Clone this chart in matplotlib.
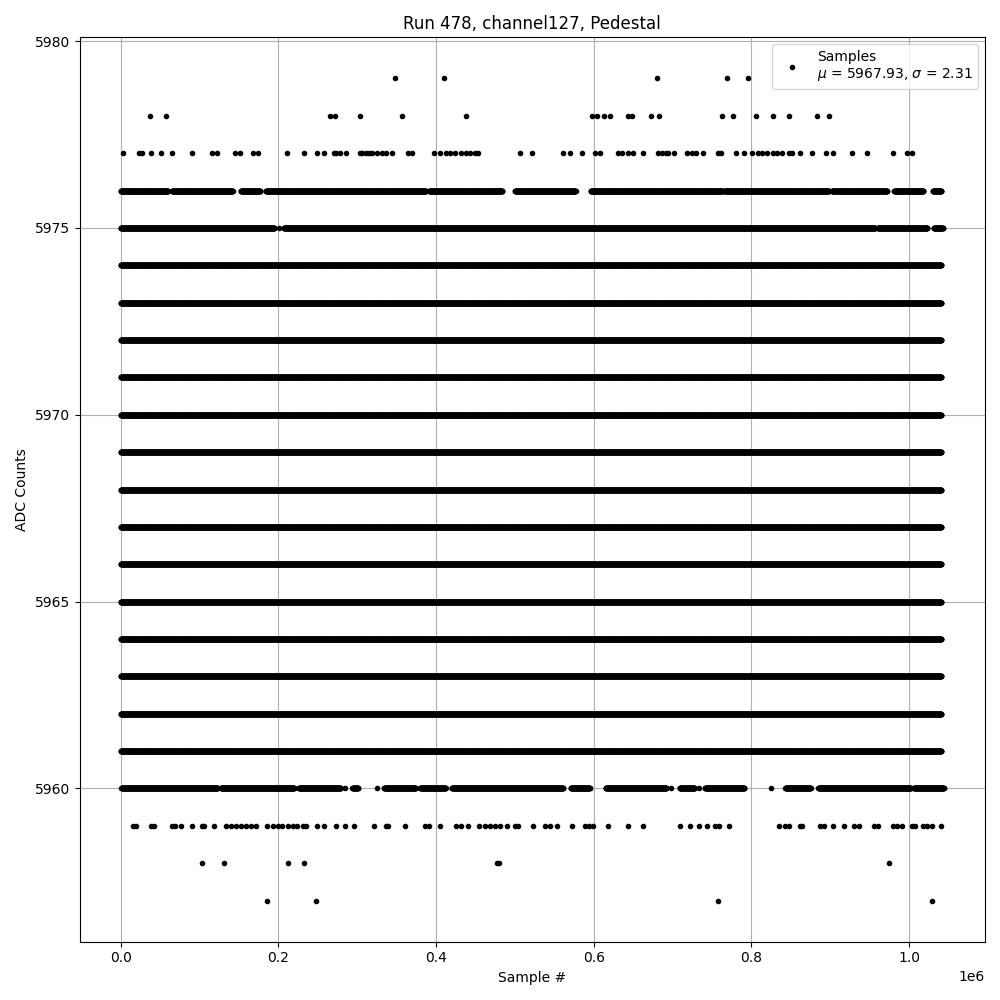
import numpy as np
import matplotlib
matplotlib.use("Agg")
import matplotlib.pyplot as plt

# ---- data (sample positions in thousands of samples, ADC levels) ----
# levels that are populated over the whole run
levels_full = [5961, 5962, 5963, 5964, 5965, 5966, 5967, 5968, 5969, 5970,
               5971, 5972, 5973, 5974]
full_span_k = [0, 1041]

# partly populated levels: occupied sample intervals [start, end] (thousands)
seg_5975_k = [[0, 195], [201, 201], [207, 957], [960, 1023], [1031, 1043]]
seg_5976_k = [[0, 60], [65, 142], [152, 177], [184, 387], [391, 484],
              [500, 577], [596, 764], [766, 898], [902, 972], [981, 1018],
              [1030, 1041]]
seg_5960_k = [[1, 123], [127, 220], [226, 279], [285, 285], [294, 301],
              [325, 325], [334, 374], [380, 412], [420, 561], [571, 595],
              [615, 692], [698, 698], [709, 728], [733, 733], [741, 791],
              [825, 825], [843, 875], [885, 1002], [1006, 1044]]

# sparse levels: individual sample positions (thousands)
pts_5977_k = [3, 23, 27, 38, 51, 65, 90, 116, 122, 145, 151, 168, 174, 211,
              233, 249, 258, 270, 273, 278, 286, 303, 306, 311, 315, 319, 325,
              331, 337, 344, 365, 370, 397, 405, 412, 418, 424, 431, 438, 443,
              450, 453, 507, 522, 561, 570, 585, 601, 608, 631, 636, 643, 650,
              662, 681, 686, 691, 694, 702, 718, 724, 730, 738, 757, 761, 780,
              790, 801, 808, 814, 820, 827, 833, 839, 848, 852, 861, 877, 895,
              904, 927, 946, 979, 997, 1004]
pts_5978_k = [37, 57, 265, 272, 303, 357, 438, 598, 604, 613, 621, 643, 648,
              673, 683, 763, 777, 806, 827, 847, 883, 898]
pts_5979_k = [348, 410, 680, 769, 796]
pts_5959_k = [15, 20, 38, 42, 65, 69, 77, 91, 103, 106, 118, 134, 140, 146,
              153, 159, 165, 172, 186, 193, 199, 205, 212, 218, 224, 231, 235,
              249, 258, 273, 285, 296, 321, 337, 339, 360, 386, 391, 405, 425,
              431, 441, 454, 462, 469, 475, 481, 490, 500, 504, 523, 538, 544,
              553, 573, 589, 594, 599, 618, 643, 663, 709, 722, 733, 744, 754,
              759, 772, 835, 842, 848, 861, 864, 887, 892, 903, 917, 930, 937,
              955, 960, 979, 985, 991, 1004, 1008, 1018, 1023, 1029, 1040]
pts_5958_k = [103, 131, 212, 233, 477, 480, 974]
pts_5957_k = [185, 248, 758, 1029]

mu_label = 5967.93
sigma_label = 2.31

# ---- assemble the points ----
xs, ys = [], []


def add_segments(level, segs):
    for a, b in segs:
        s = np.arange(a, b + 0.001, 0.25) * 1000.0
        xs.append(s)
        ys.append(np.full(s.shape, level))


def add_points(level, pts):
    s = np.asarray(pts, dtype=float) * 1000.0
    xs.append(s)
    ys.append(np.full(s.shape, level))


for lev in levels_full:
    add_segments(lev, [full_span_k])
add_segments(5975, seg_5975_k)
add_segments(5976, seg_5976_k)
add_segments(5960, seg_5960_k)
add_points(5977, pts_5977_k)
add_points(5978, pts_5978_k)
add_points(5979, pts_5979_k)
add_points(5959, pts_5959_k)
add_points(5958, pts_5958_k)
add_points(5957, pts_5957_k)

x = np.concatenate(xs)
y = np.concatenate(ys)

fig, ax = plt.subplots(figsize=(10, 10), dpi=100)
ax.plot(x, y, 'k.', label='Samples\n$\\mu$ = %.2f, $\\sigma$ = %.2f' % (mu_label, sigma_label))
ax.set_title('Run 478, channel127, Pedestal')
ax.set_xlabel('Sample #')
ax.set_ylabel('ADC Counts')
ax.grid(True)
ax.legend(loc='upper right')
fig.tight_layout()
fig.savefig('out.png', dpi=100)
